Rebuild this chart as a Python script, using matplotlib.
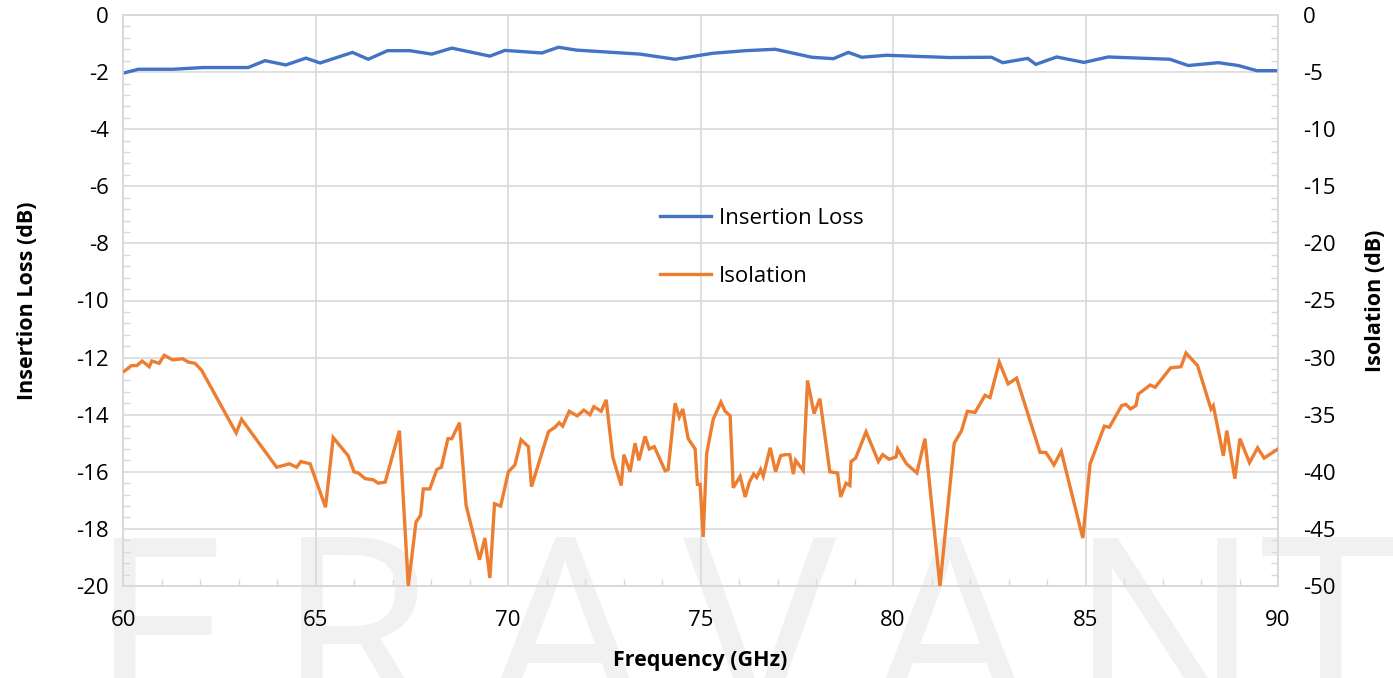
import matplotlib
matplotlib.use("Agg")
import matplotlib.pyplot as plt
from matplotlib.ticker import MultipleLocator

# ---------------- data ----------------
il_freq = [60.0, 60.4, 61.3, 62.09, 63.25, 63.69, 64.23, 64.75, 65.12, 65.96, 66.37,
           66.87, 67.45, 68.02, 68.54, 69.53, 69.92, 70.88, 71.31, 71.78, 73.43, 74.34,
           75.32, 76.16, 76.94, 77.89, 78.45, 78.84, 79.19, 79.83, 81.48, 82.56, 82.85,
           83.50, 83.71, 84.25, 84.96, 85.59, 87.19, 87.67, 88.45, 88.97, 89.45, 90.0]
il_db = [-2.04, -1.90, -1.90, -1.84, -1.84, -1.60, -1.75, -1.51, -1.68, -1.31, -1.55,
         -1.25, -1.25, -1.37, -1.16, -1.44, -1.24, -1.33, -1.13, -1.23, -1.37, -1.55,
         -1.34, -1.25, -1.20, -1.48, -1.53, -1.31, -1.48, -1.41, -1.49, -1.48, -1.67,
         -1.52, -1.73, -1.47, -1.66, -1.47, -1.55, -1.77, -1.67, -1.77, -1.95, -1.95]

iso_freq = [60.03, 60.22, 60.36, 60.50, 60.68, 60.75, 60.94, 61.07, 61.29, 61.55, 61.70,
            61.87, 62.04, 62.94, 63.08, 63.99, 64.32, 64.51, 64.62, 64.86, 65.26, 65.46,
            65.85, 66.00, 66.11, 66.29, 66.50, 66.63, 66.81, 67.18, 67.41, 67.61, 67.73,
            67.80, 67.97, 68.15, 68.27, 68.44, 68.54, 68.74, 68.91, 69.26, 69.40, 69.53,
            69.65, 69.81, 70.01, 70.18, 70.34, 70.53, 70.61, 71.05, 71.13, 71.22, 71.33,
            71.42, 71.59, 71.80, 71.97, 72.13, 72.23, 72.42, 72.55, 72.72, 72.94, 73.01,
            73.17, 73.30, 73.40, 73.56, 73.67, 73.80, 74.08, 74.16, 74.34, 74.45, 74.54,
            74.68, 74.86, 74.92, 74.99, 75.07, 75.16, 75.33, 75.53, 75.64, 75.77, 75.85,
            76.03, 76.16, 76.27, 76.38, 76.46, 76.56, 76.63, 76.81, 76.95, 77.08, 77.19,
            77.32, 77.41, 77.47, 77.67, 77.78, 77.95, 78.10, 78.36, 78.56, 78.64, 78.78,
            78.88, 78.91, 79.03, 79.30, 79.62, 79.73, 79.90, 80.08, 80.12, 80.35, 80.62,
            80.83, 81.22, 81.59, 81.78, 81.93, 82.13, 82.39, 82.52, 82.76, 82.99, 83.21,
            83.82, 83.97, 84.18, 84.37, 84.93, 85.12, 85.49, 85.62, 85.94, 86.05, 86.17,
            86.31, 86.37, 86.68, 86.81, 87.21, 87.48, 87.61, 87.91, 88.26, 88.32, 88.58,
            88.67, 88.88, 89.01, 89.26, 89.47, 89.64, 90.00]
iso_db = [-31.2, -30.7, -30.7, -30.3, -30.8, -30.3, -30.5, -29.8, -30.2, -30.1, -30.4,
          -30.5, -31.1, -36.6, -35.4, -39.6, -39.3, -39.6, -39.1, -39.3, -43.1, -37.0,
          -38.6, -40.0, -40.1, -40.6, -40.7, -41.0, -40.9, -36.4, -50.0, -44.4, -43.8,
          -41.5, -41.5, -39.8, -39.6, -37.1, -37.1, -35.7, -42.9, -47.7, -45.8, -49.3,
          -42.8, -43.0, -40.0, -39.4, -37.2, -37.8, -41.3, -36.5, -36.3, -36.1, -35.7,
          -36.0, -34.7, -35.1, -34.6, -35.0, -34.3, -34.7, -33.7, -38.7, -41.2, -38.5,
          -40.0, -37.5, -39.0, -36.9, -38.0, -37.8, -39.9, -39.8, -34.0, -35.2, -34.5,
          -37.1, -38.0, -41.1, -41.1, -45.7, -38.4, -35.4, -33.9, -34.7, -35.1, -41.4,
          -40.4, -42.2, -40.9, -40.2, -40.5, -39.8, -40.4, -37.9, -40.0, -38.6, -38.5,
          -38.5, -40.2, -39.0, -39.9, -32.0, -34.9, -33.6, -40.0, -40.1, -42.2, -41.0,
          -41.2, -39.1, -38.8, -36.5, -39.1, -38.5, -38.9, -38.7, -38.0, -39.3, -40.1,
          -37.1, -50.0, -37.5, -36.4, -34.7, -34.8, -33.3, -33.5, -30.4, -32.3, -31.8,
          -38.3, -38.3, -39.4, -38.2, -45.8, -39.3, -36.0, -36.1, -34.2, -34.1, -34.5,
          -34.2, -33.2, -32.4, -32.6, -30.9, -30.8, -29.6, -30.7, -34.5, -34.2, -38.6,
          -36.4, -40.6, -37.1, -39.2, -37.9, -38.8, -38.0]

series_labels = ["Insertion Loss", "Isolation"]
watermark_letters = ["E", "R", "A", "V", "A", "N", "T"]

# ---------------- style ----------------
FONT = "Open Sans"
BLUE = "#4472C4"
ORANGE = "#ED7D31"
GRID = "#D9D9D9"

plt.rcParams["font.family"] = [FONT, "DejaVu Sans"]
plt.rcParams["axes.unicode_minus"] = False

W, H = 1393, 678
fig = plt.figure(figsize=(W / 100, H / 100), dpi=100)

# watermark (behind everything)
wm_x = [160, 355, 565, 760, 950, 1165, 1330]
for ch, px in zip(watermark_letters, wm_x):
    fig.text(px / W, 1 - 526 / H, ch, ha="center", va="top", fontsize=185,
             color="#F1F1F1", family=FONT, zorder=-10)

ax = fig.add_axes([123 / W, 1 - 586 / H, (1278 - 123) / W, (586 - 15) / H])
ax.patch.set_alpha(0)
ax2 = ax.twinx()
ax2.patch.set_alpha(0)

l1, = ax.plot(il_freq, il_db, color=BLUE, lw=2.4, label=series_labels[0],
              solid_joinstyle="miter", zorder=3)
l2, = ax2.plot(iso_freq, iso_db, color=ORANGE, lw=2.4, label=series_labels[1],
               solid_joinstyle="miter", zorder=3)

ax.set_xlim(60, 90)
ax.set_ylim(-20, 0)
ax2.set_ylim(-50, 0)

ax.xaxis.set_major_locator(MultipleLocator(5))
ax.xaxis.set_minor_locator(MultipleLocator(1))
ax.yaxis.set_major_locator(MultipleLocator(2))
ax.yaxis.set_minor_locator(MultipleLocator(0.4))
ax2.yaxis.set_major_locator(MultipleLocator(5))
ax2.yaxis.set_minor_locator(MultipleLocator(1))

ax.grid(True, which="major", color=GRID, lw=1.2)
ax.set_axisbelow(True)

for a in (ax, ax2):
    for s in a.spines.values():
        s.set_color(GRID)
        s.set_linewidth(1.2)

ax.tick_params(axis="both", which="major", length=0, labelsize=16)
ax.tick_params(axis="y", which="major", pad=10)
ax.tick_params(axis="x", which="major", pad=17)
ax.tick_params(axis="both", which="minor", direction="in", length=5, color=GRID, width=1)
ax2.tick_params(axis="y", which="major", length=0, labelsize=16, pad=18)
ax2.tick_params(axis="y", which="minor", direction="in", length=5, color=GRID, width=1)

ax.set_xlabel("Frequency (GHz)", fontsize=15.5, fontweight="bold", labelpad=14)
ax.set_ylabel("Insertion Loss (dB)", fontsize=15.5, fontweight="bold", labelpad=28)
ax2.set_ylabel("Isolation (dB)", fontsize=15.5, fontweight="bold", labelpad=21)

leg = ax.legend([l1, l2], series_labels, loc="upper left",
                bbox_to_anchor=(660 / W, 1 - 208 / H), bbox_transform=fig.transFigure,
                frameon=False, fontsize=16, handlelength=2.3, handletextpad=0.35,
                labelspacing=1.65, borderpad=0, borderaxespad=0)
leg.set_zorder(5)

fig.savefig("out.png", dpi=100)
